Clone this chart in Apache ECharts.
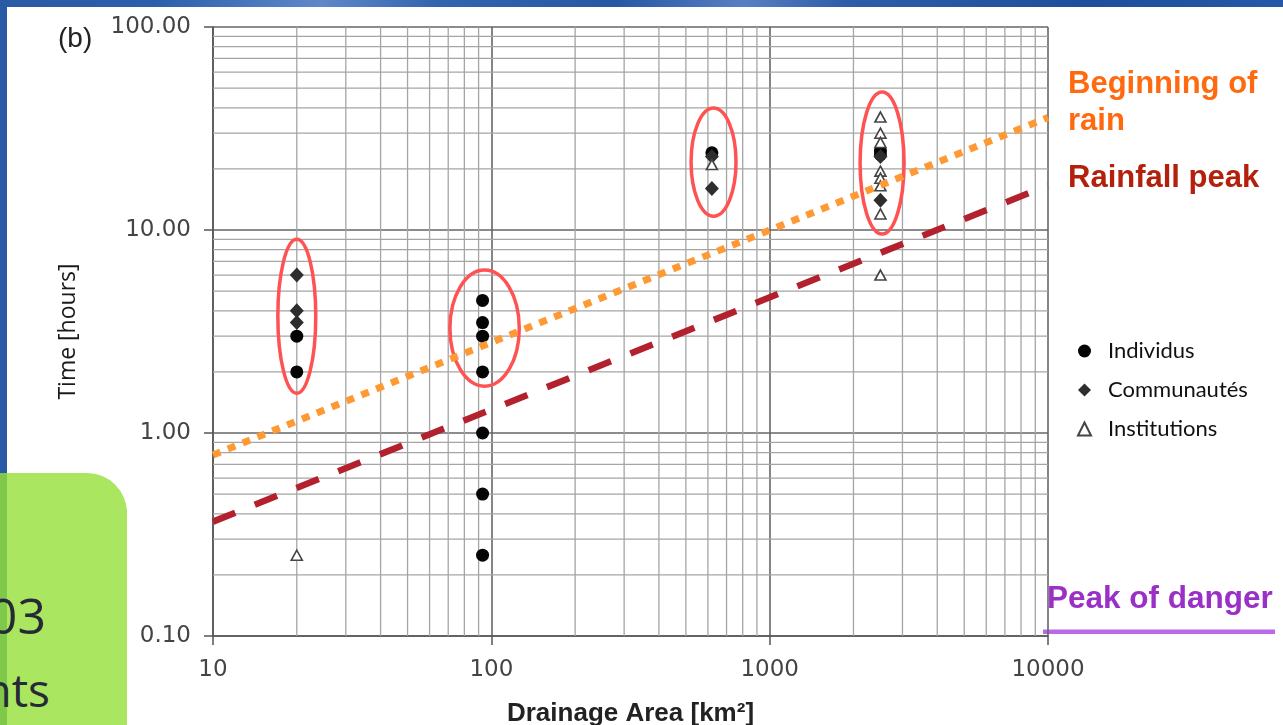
<!DOCTYPE html>
<html>
<head>
<meta charset="utf-8">
<script src="https://cdn.jsdelivr.net/npm/echarts@6/dist/echarts.min.js"></script>
<style>
  html, body { margin:0; padding:0; }
  body { width:1283px; height:725px; overflow:hidden; position:relative;
    background: linear-gradient(90deg, #2a5aa6 0%, #2c5eab 12%, #5f88c9 25%, #3364ae 34%, #2757a4 48%, #587fc2 58%, #2d5ca8 66%, #1f4f9c 85%, #2558a7 100%); }
  #panel { position:absolute; left:7px; top:7px; right:0; bottom:0; background:#fff; }
  #green { position:absolute; left:0; top:473px; width:127px; height:252px; background:#abe661;
    border-top-right-radius:40px; overflow:hidden; }
  #strip { position:absolute; left:0; top:0; width:7px; height:100%; background:#80c84a; }
  .gt { position:absolute; white-space:nowrap; font-family:"Open Sans", sans-serif; color:#262a36; }
  #chart { position:absolute; left:0; top:0; width:1283px; height:725px; }
</style>
</head>
<body>
<div id="panel"></div>
<div id="green"><div id="strip"></div>
  <div class="gt" style="right:81px; top:112px; font-size:50px; line-height:60px;">03</div>
  <div class="gt" style="right:77px; top:188px; font-size:46px; line-height:56px;">nts</div>
</div>
<div id="chart"></div>
<script>
// ---- data ----
const xTicks = [10, 100, 1000, 10000];
const xTickLabels = ['10', '100', '1000', '10000'];
const yTicks = [0.1, 1, 10, 100];
const yTickLabels = ['0.10', '1.00', '10.00', '100.00'];
const minorSteps = [2, 3, 4, 5, 6, 7, 8, 9];

const individus = [[20,3],[20,2],[93,4.5],[93,3.5],[93,3],[93,2],[93,1],[93,0.5],[93,0.25],[620,24],[2500,24.5],[2500,23.5]];
const communautes = [[20,6],[20,4],[20,3.5],[620,23],[620,16],[2500,23],[2500,14]];
const institutions = [[20,0.25],[620,21],[2500,36],[2500,30],[2500,27],[2500,19.5],[2500,18],[2500,16.5],[2500,12],[2500,6]];

const rainStart = [[10,0.78],[10000,35.8]];
const rainPeak = [[10,0.366],[10000,16.6]];

// cluster ellipses: [area left, area right, time top, time bottom]
const clusters = [[17.1,23.4,9.0,1.57],[71,126,6.35,1.70],[522,757,39.9,11.7],[2113,3040,47.8,9.55]];

// minor grid values (tick positions)
const xMinor = [];
for (let i = 0; i < xTicks.length - 1; i++) minorSteps.forEach(s => xMinor.push([xTicks[i] * s, 1]));
const yMinor = [];
for (let i = 0; i < yTicks.length - 1; i++) minorSteps.forEach(s => yMinor.push([100, yTicks[i] * s]));

const chart = echarts.init(document.getElementById('chart'), null, {renderer:'canvas'});

function lab(ticks, labels) {
  return v => {
    const e = Math.round(Math.log10(v));
    const idx = ticks.findIndex(t => Math.round(Math.log10(t)) === e);
    return idx >= 0 ? labels[idx] : '';
  };
}

const tickFont = {fontFamily:'DejaVu Sans', fontSize:23, color:'#444'};

chart.setOption({
  animation:false,
  grid:{left:213, right:235, top:27, bottom:89, containLabel:false, outerBoundsMode:'none'},
  xAxis:{
    type:'log', logBase:10, min:10, max:10000,
    axisLine:{show:true, onZero:false, lineStyle:{color:'#555', width:1.5}},
    axisTick:{show:true, length:9, lineStyle:{color:'#555', width:1.5}},
    axisLabel:Object.assign({margin:23, formatter:lab(xTicks, xTickLabels)}, tickFont),
    splitLine:{show:true, lineStyle:{color:'#666', width:1.6}},
    name:'Drainage Area [km²]', nameLocation:'middle', nameGap:65,
    nameTextStyle:{fontFamily:'Liberation Sans', fontWeight:'bold', fontSize:26, color:'#222'}
  },
  yAxis:{
    type:'log', logBase:10, min:0.1, max:100,
    axisLine:{show:true, onZero:false, lineStyle:{color:'#555', width:1.5}},
    axisTick:{show:true, length:9, lineStyle:{color:'#555', width:1.5}},
    axisLabel:Object.assign({margin:22, formatter:lab(yTicks, yTickLabels)}, tickFont),
    splitLine:{show:true, lineStyle:{color:'#666', width:1.6}},
    name:'Time [hours]', nameLocation:'middle', nameGap:133, nameRotate:90,
    nameTextStyle:{fontFamily:'Open Sans', fontSize:23, color:'#1a1a1a'}
  },
  legend:{
    data:['Individus','Communautés','Institutions'],
    orient:'vertical', left:1077, top:340, padding:0, itemWidth:13, itemHeight:13, itemGap:17,
    textStyle:{fontFamily:'Lato', fontSize:22, color:'#111', padding:[0,0,0,12]}
  },
  graphic:[
    {type:'text', x:58, y:39, style:{text:'(b)', font:'28px "Liberation Sans"', fill:'#222', verticalAlign:'middle', textVerticalAlign:'middle'}},
    {type:'text', x:1068, y:84, style:{text:'Beginning of', font:'bold 31px "Liberation Sans"', fill:'#ff6a10', verticalAlign:'middle', textVerticalAlign:'middle'}},
    {type:'text', x:1068, y:121, style:{text:'rain', font:'bold 31px "Liberation Sans"', fill:'#ff6a10', verticalAlign:'middle', textVerticalAlign:'middle'}},
    {type:'text', x:1068, y:178, style:{text:'Rainfall peak', font:'bold 31px "Liberation Sans"', fill:'#b3200c', verticalAlign:'middle', textVerticalAlign:'middle'}},
    {type:'text', x:1047, y:599, style:{text:'Peak of danger', font:'bold 31.5px "Liberation Sans"', fill:'#9a30c6', verticalAlign:'middle', textVerticalAlign:'middle'}},
    {type:'rect', shape:{x:1043, y:629.5, width:232, height:4.5}, style:{fill:'#b86ae9'}}
  ],
  series:[
    {type:'custom', name:'xminor', silent:true, z:1, data:xMinor, clip:true,
      renderItem:(params, api) => {
        const p = api.coord([api.value(0), 1]);
        const cs = params.coordSys;
        return {type:'line', shape:{x1:p[0], y1:cs.y, x2:p[0], y2:cs.y+cs.height}, style:{stroke:'#a5a5a5', lineWidth:1.3}};
      }},
    {type:'custom', name:'yminor', silent:true, z:1, data:yMinor, clip:true,
      renderItem:(params, api) => {
        const p = api.coord([100, api.value(1)]);
        const cs = params.coordSys;
        return {type:'line', shape:{x1:cs.x, y1:p[1], x2:cs.x+cs.width, y2:p[1]}, style:{stroke:'#a5a5a5', lineWidth:1.3}};
      }},
    {type:'scatter', name:'Individus', data:individus, symbol:'circle', symbolSize:13, z:3,
      itemStyle:{color:'#050505', opacity:1}},
    {type:'scatter', name:'Communautés', data:communautes, symbol:'diamond', symbolSize:[14,15], z:3,
      itemStyle:{color:'#2e2e2e', opacity:1}},
    {type:'scatter', name:'Institutions', data:institutions, symbol:'triangle', symbolSize:[11,10], z:3,
      itemStyle:{color:'#fff', borderColor:'#444', borderWidth:1.6, opacity:1}},
    {type:'custom', name:'clusters', silent:true, z:4, data:clusters,
      renderItem:(params, api) => {
        const a = api.coord([api.value(0), api.value(2)]);
        const b = api.coord([api.value(1), api.value(3)]);
        return {type:'ellipse', shape:{cx:(a[0]+b[0])/2, cy:(a[1]+b[1])/2, rx:Math.abs(b[0]-a[0])/2, ry:Math.abs(b[1]-a[1])/2},
          style:{fill:'none', stroke:'#ff5252', lineWidth:3.5}};
      }},
    {type:'line', name:'Beginning of rain', data:rainStart, symbol:'none', silent:true, z:5,
      lineStyle:{color:'#ff9933', width:7, type:[8,8], cap:'butt'}},
    {type:'line', name:'Rainfall peak', data:rainPeak, symbol:'none', silent:true, z:5,
      lineStyle:{color:'#b3202e', width:6.5, type:[24,21], cap:'butt'}}
  ]
});
</script>
</body>
</html>
